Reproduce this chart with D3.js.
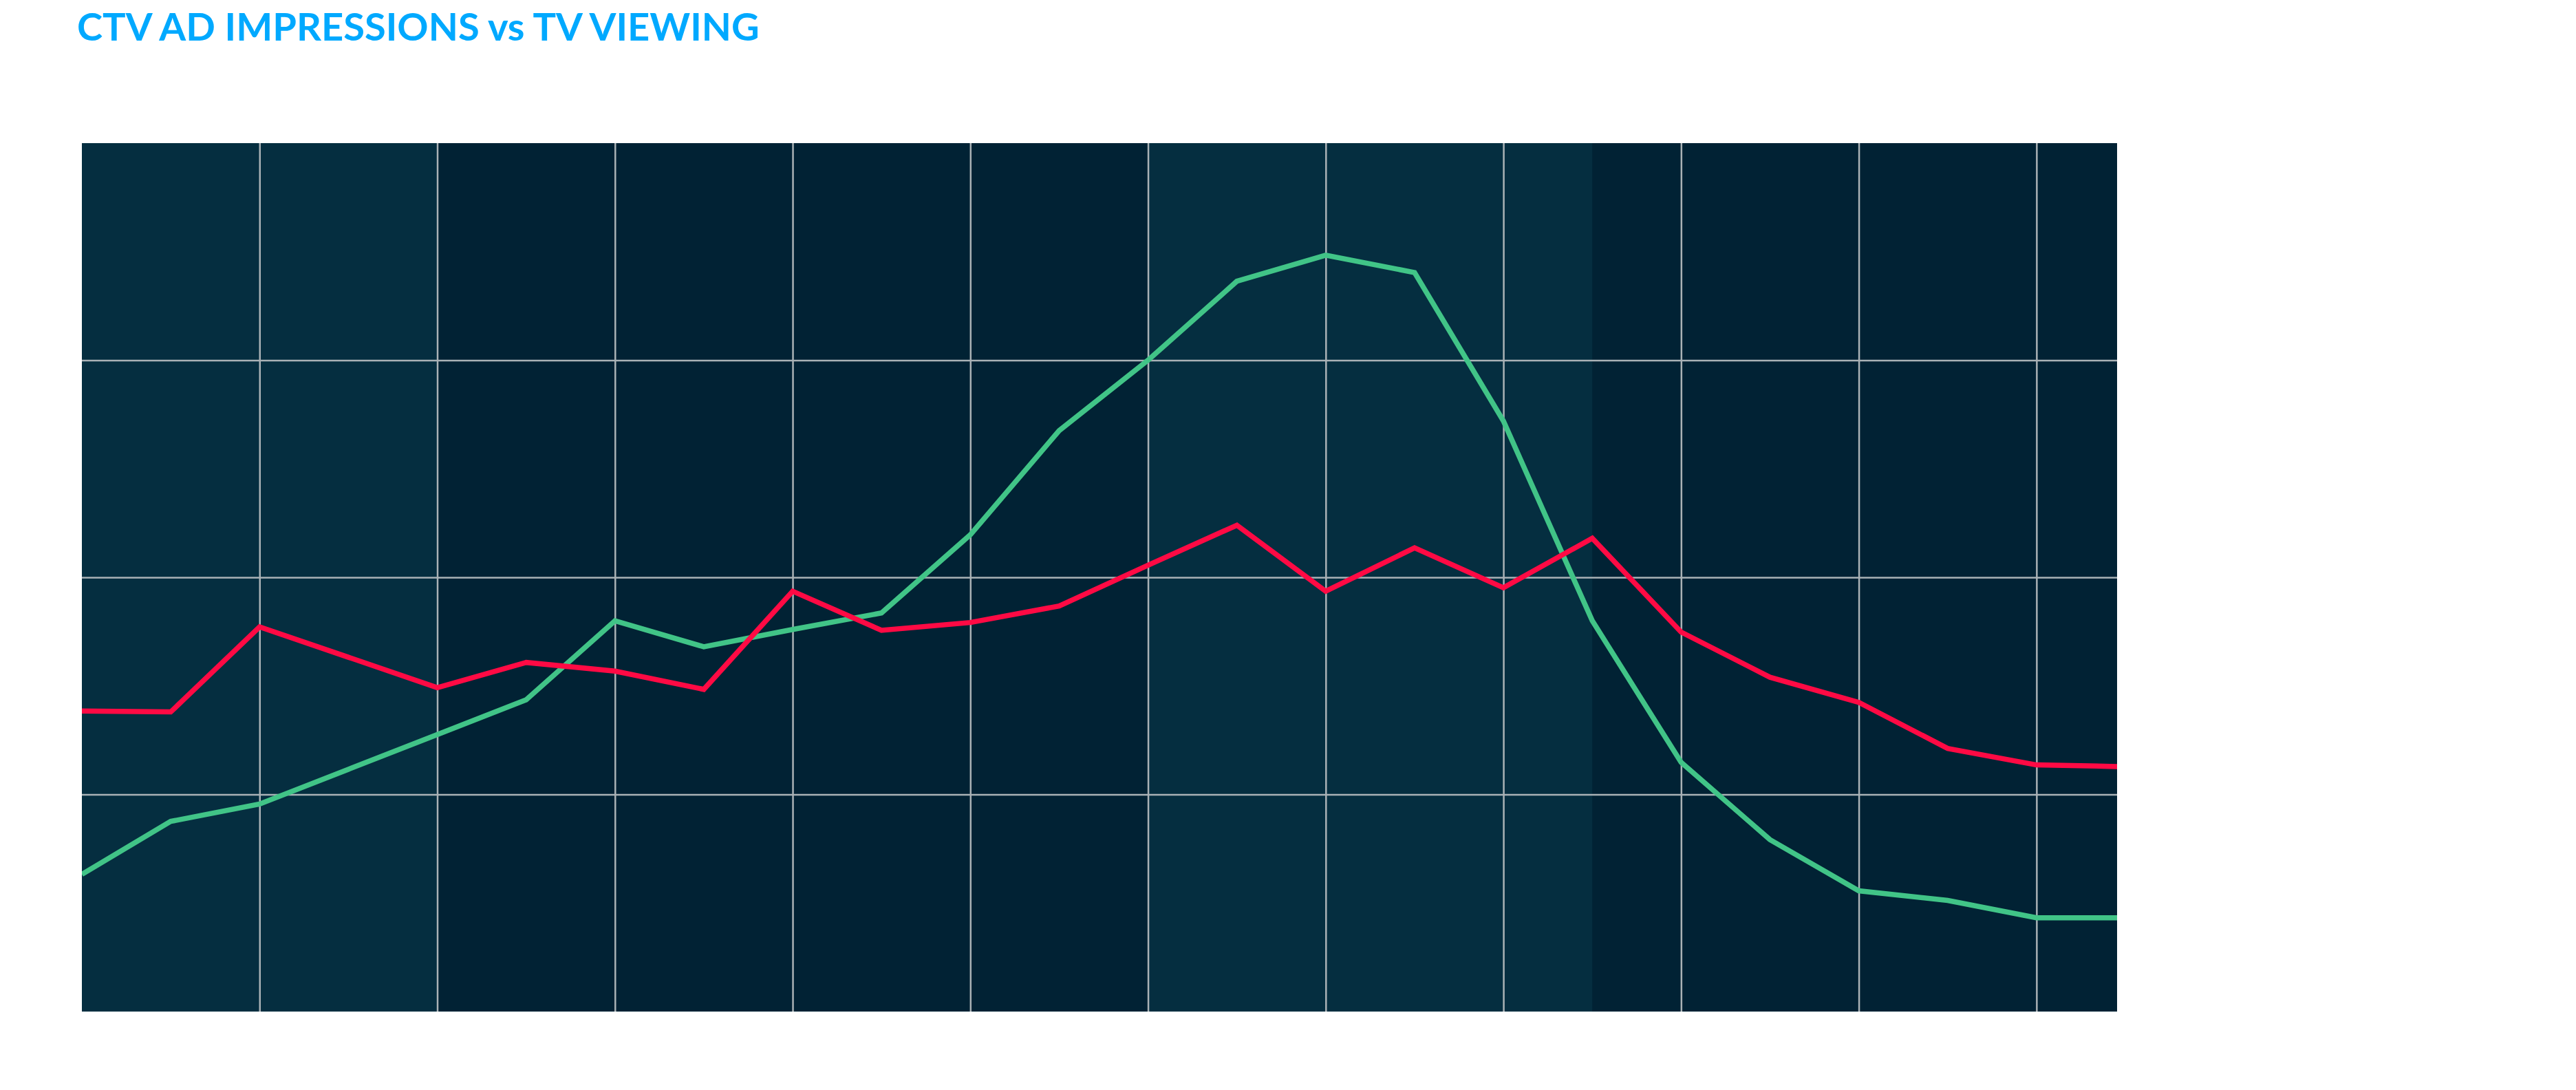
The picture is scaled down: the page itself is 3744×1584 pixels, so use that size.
<!DOCTYPE html>
<html>
<head>
<meta charset="utf-8">
<script src="https://cdn.jsdelivr.net/npm/d3@7"></script>
<style>
  body { margin: 0; background: #fff; }
  svg { display: block; }
</style>
</head>
<body>
<script>
// hour of day on the x axis
const hours = [0, 1, 2, 3, 4, 5, 6, 7, 8, 9, 10, 11, 12, 13, 14, 15, 16, 17, 18, 19, 20, 21, 22, 23];
const adImpressions = [34.6, 34.5, 44.3, 40.8, 37.3, 40.2, 39.2, 37.1, 48.4, 43.9, 44.8, 46.7,
                       51.4, 56.0, 48.4, 53.4, 48.8, 54.5, 43.7, 38.5, 35.6, 30.3, 28.4, 28.2];
const tvViewing = [15.8, 21.9, 23.9, 27.9, 31.9, 35.9, 45.0, 42.0, 44.0, 45.9, 54.9, 66.9,
                   75.0, 84.1, 87.1, 85.1, 68.0, 45.0, 28.7, 19.8, 13.9, 12.8, 10.8, 10.8];
const xTicks = [2, 4, 6, 8, 10, 12, 14, 16, 18, 20, 22];
const yTicks = [25, 50, 75];
// background day parts
const bandStart = [0, 4, 12, 17];
const bandEnd = [4, 12, 17, 23];
const bandShade = ["light", "dark", "light", "dark"];

const w = 3744;
const h = 1584;
const plotLeft = 119, plotRight = 3077, plotTop = 208, plotBottom = 1470;

const xScale = d3.scaleLinear()
                 .domain([0, 23])
                 .range([plotLeft, 3089]);
const yScale = d3.scaleLinear()
                 .domain([0, 100])
                 .range([plotBottom, plotTop]);

const svg = d3.select("body")
              .append("svg")
              .attr("width", w)
              .attr("height", h);

svg.append("defs").append("clipPath")
   .attr("id", "plot")
   .append("rect")
   .attr("x", plotLeft)
   .attr("y", plotTop)
   .attr("width", plotRight - plotLeft)
   .attr("height", plotBottom - plotTop);

const plot = svg.append("g").attr("clip-path", "url(#plot)");

// shaded bands
plot.selectAll("rect.band")
    .data(bandStart)
    .enter()
    .append("rect")
    .attr("class", "band")
    .attr("x", (d) => xScale(d))
    .attr("y", plotTop)
    .attr("width", (d, i) => xScale(bandEnd[i]) - xScale(d) + 20)
    .attr("height", plotBottom - plotTop)
    .attr("fill", (d, i) => bandShade[i] === "light" ? "#052e40" : "#012234");

// grid lines from the axes
const xAxis = d3.axisBottom(xScale)
                .tickValues(xTicks)
                .tickSize(-(plotBottom - plotTop))
                .tickFormat("");
const yAxis = d3.axisLeft(yScale)
                .tickValues(yTicks)
                .tickSize(-(plotRight - plotLeft))
                .tickFormat("");

plot.append("g")
    .attr("class", "grid")
    .attr("transform", "translate(0," + plotBottom + ")")
    .call(xAxis);
plot.append("g")
    .attr("class", "grid")
    .attr("transform", "translate(" + plotLeft + ",0)")
    .call(yAxis);

plot.selectAll(".grid .domain").remove();
plot.selectAll(".grid line")
    .attr("stroke", "#aab2b6")
    .attr("stroke-width", 2.5);

// the two series
const line = d3.line()
               .x((d, i) => xScale(hours[i]))
               .y((d) => yScale(d));

plot.append("path")
    .datum(tvViewing)
    .attr("d", line)
    .attr("fill", "none")
    .attr("stroke", "#41c487")
    .attr("stroke-width", 7.5);

plot.append("path")
    .datum(adImpressions)
    .attr("d", line)
    .attr("fill", "none")
    .attr("stroke", "#ff0a44")
    .attr("stroke-width", 7.5);

// title, sized so it spans the same width as the original
const title = svg.append("text")
   .attr("x", 112)
   .attr("y", 59)
   .attr("font-family", "Lato, sans-serif")
   .attr("font-weight", "bold")
   .attr("font-size", 57)
   .attr("fill", "#00a9ff")
   .text("CTV AD IMPRESSIONS vs TV VIEWING");
const len = title.node().getComputedTextLength();
if (len > 0) title.attr("font-size", 57 * 992 / len);
</script>
</body>
</html>
